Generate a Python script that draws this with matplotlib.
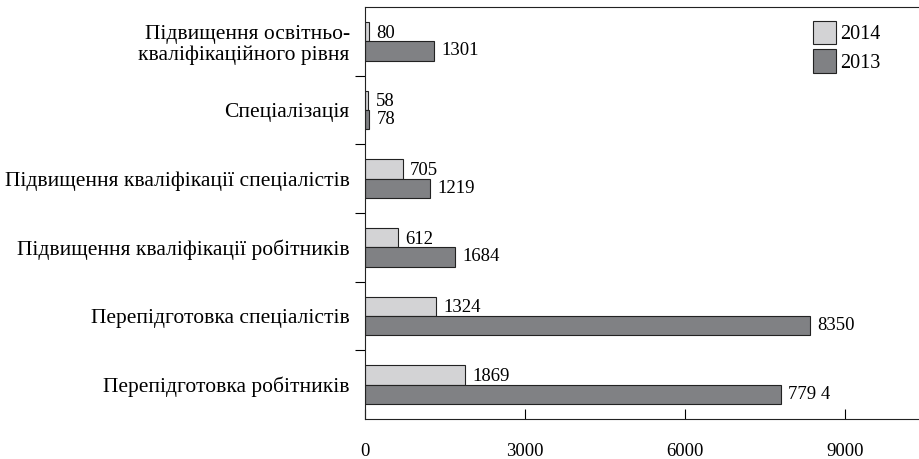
import matplotlib.pyplot as plt
from matplotlib.ticker import FixedLocator

# categories, bottom to top
categories = [
    "Перепідготовка робітників",
    "Перепідготовка спеціалістів",
    "Підвищення кваліфікації робітників",
    "Підвищення кваліфікації спеціалістів",
    "Спеціалізація",
    "Підвищення освітньо-\nкваліфікаційного рівня",
]
values_2014 = [1869, 1324, 612, 705, 58, 80]
values_2013 = [7794, 8350, 1684, 1219, 78, 1301]
labels_2014 = ["1869", "1324", "612", "705", "58", "80"]
labels_2013 = ["779 4", "8350", "1684", "1219", "78", "1301"]
xticks = [0, 3000, 6000, 9000]

plt.rcParams['font.family'] = ['Liberation Serif', 'DejaVu Serif']

fig = plt.figure(figsize=(9.19, 4.59), dpi=100)
ax = fig.add_axes([365 / 919, 40 / 459, 554 / 919, 412 / 459])

pos = list(range(len(categories)))
h = 0.28
light = "#d3d3d5"
dark = "#808184"

b14 = ax.barh([p + h / 2 for p in pos], values_2014, height=h, color=light,
              edgecolor="#222222", linewidth=0.8, label="2014")
b13 = ax.barh([p - h / 2 for p in pos], values_2013, height=h, color=dark,
              edgecolor="#222222", linewidth=0.8, label="2013")

for rect, txt in zip(b14, labels_2014):
    ax.text(rect.get_width() + 140, rect.get_y() + rect.get_height() / 2 - 0.02, txt,
            va="center", ha="left", fontsize=13.5)
for rect, txt in zip(b13, labels_2013):
    ax.text(rect.get_width() + 140, rect.get_y() + rect.get_height() / 2, txt,
            va="center", ha="left", fontsize=13.5)

ax.set_xlim(0, 10390)
ax.set_ylim(-0.5, len(categories) - 0.5)

ax.set_xticks(xticks)
ax.set_xticklabels([str(t) for t in xticks], fontsize=13.5)
ax.tick_params(axis="x", direction="in", length=7, width=0.8, pad=17)

ax.set_yticks(pos)
ax.set_yticklabels(categories, fontsize=15.5, ha="right", linespacing=1.1)
ax.tick_params(axis="y", which="major", length=0, pad=11)
ax.yaxis.set_minor_locator(FixedLocator([p + 0.5 for p in pos[:-1]]))
ax.tick_params(axis="y", which="minor", direction="out", length=7, width=0.8)

ax.spines["right"].set_visible(False)
for s in ["left", "top", "bottom"]:
    ax.spines[s].set_linewidth(0.8)
    ax.spines[s].set_color("#222222")

ax.legend(loc="upper left", bbox_to_anchor=(448 / 554, 0.966), frameon=False,
          fontsize=14.5, handlelength=1.15, handleheight=1.4, handletextpad=0.2,
          labelspacing=0.25, borderpad=0, borderaxespad=0)

fig.savefig("out.png", dpi=100)
